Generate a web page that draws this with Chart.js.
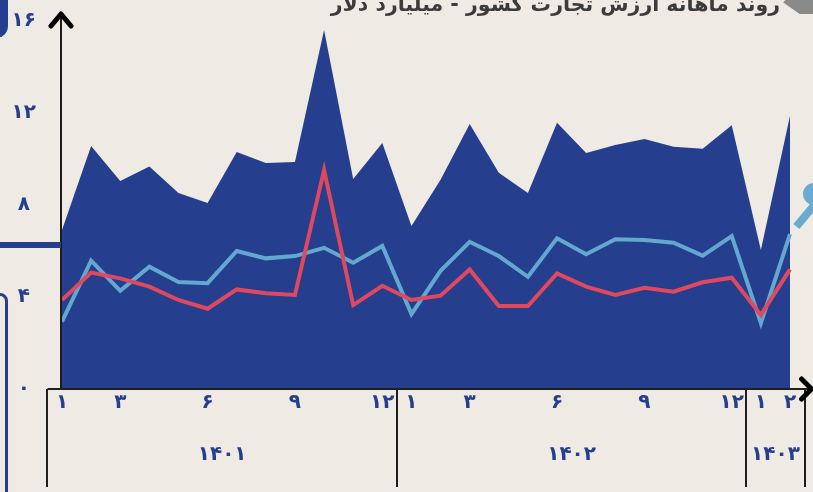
<!DOCTYPE html>
<html>
<head>
<meta charset="utf-8">
<script src="https://cdn.jsdelivr.net/npm/chart.js@4.4.1/dist/chart.umd.min.js"></script>
<style>
  html, body { margin: 0; padding: 0; background: #efebe4; }
  #wrap { position: relative; width: 813px; height: 492px; overflow: hidden; background: #efebe4; }
  #tradeChart { position: absolute; left: 0; top: 0; }
  .title {
    position: absolute; right: 33px; top: -8px; direction: rtl; white-space: nowrap;
    font: bold 20.5px "DejaVu Sans", sans-serif; color: #3b3b3b;
  }
  .tag { position: absolute; left: 783px; top: -12px; width: 30px; height: 26px; background: #8a8a8a;
    clip-path: polygon(0 55%, 55% 0, 100% 0, 100% 100%, 55% 100%); }
  .blob { position: absolute; left: -14px; top: -6px; width: 22px; height: 44px; background: #253f8e; border-radius: 0 0 12px 0; }
  .bar { position: absolute; left: 0; top: 242px; width: 61px; height: 6px; background: #253f8e; }
  .frame { position: absolute; left: -8px; top: 293px; width: 10px; height: 220px; border: 3px solid #253f8e; border-radius: 8px; }
  .icon { position: absolute; left: 803px; top: 183px; width: 22px; height: 22px; border-radius: 50%; background: #6aaad0; }
  .icon2 { position: absolute; left: 802px; top: 200px; width: 8px; height: 30px; background: #6aaad0; transform: rotate(40deg); }
</style>
</head>
<body>
<div id="wrap">
  <canvas id="tradeChart" width="813" height="492"></canvas>
  <div class="title">روند ماهانه ارزش تجارت کشور - میلیارد دلار</div>
  <div class="tag"></div>
  <div class="blob"></div>
  <div class="bar"></div>
  <div class="frame"></div>
  <div class="icon"></div>
  <div class="icon2"></div>
</div>
<script>
// months 1401/1 .. 1403/2
const categories = [
  '۱۴۰۱/۱','۱۴۰۱/۲','۱۴۰۱/۳','۱۴۰۱/۴','۱۴۰۱/۵','۱۴۰۱/۶','۱۴۰۱/۷','۱۴۰۱/۸','۱۴۰۱/۹','۱۴۰۱/۱۰','۱۴۰۱/۱۱','۱۴۰۱/۱۲',
  '۱۴۰۲/۱','۱۴۰۲/۲','۱۴۰۲/۳','۱۴۰۲/۴','۱۴۰۲/۵','۱۴۰۲/۶','۱۴۰۲/۷','۱۴۰۲/۸','۱۴۰۲/۹','۱۴۰۲/۱۰','۱۴۰۲/۱۱','۱۴۰۲/۱۲',
  '۱۴۰۳/۱','۱۴۰۳/۲'
];
const monthTicks = ['۱','','۳','','','۶','','','۹','','','۱۲', '۱','','۳','','','۶','','','۹','','','۱۲', '۱','۲'];
const yearLabels = ['۱۴۰۱', '۱۴۰۲', '۱۴۰۳'];
const monthsPerYear = [12, 12, 2];
const yTickLabels = ['۰', '۴', '۸', '۱۲', '۱۶'];

// billion dollars
const totalTrade = [6.91, 10.57, 9.04, 9.67, 8.52, 8.09, 10.30, 9.83, 9.87, 15.61, 9.13, 10.70,
                    7.09, 9.10, 11.52, 9.40, 8.52, 11.58, 10.26, 10.61, 10.87, 10.53, 10.45, 11.47,
                    6.04, 11.88];
const blueSeries = [2.93, 5.58, 4.27, 5.32, 4.65, 4.60, 6.00, 5.68, 5.78, 6.14, 5.49, 6.22,
                    3.26, 5.14, 6.40, 5.78, 4.88, 6.55, 5.86, 6.51, 6.48, 6.36, 5.80, 6.65,
                    2.86, 6.73];
const redSeries = [3.87, 5.06, 4.81, 4.45, 3.87, 3.49, 4.33, 4.16, 4.09, 9.52, 3.65, 4.49,
                   3.87, 4.06, 5.20, 3.61, 3.61, 5.03, 4.45, 4.09, 4.40, 4.23, 4.64, 4.84,
                   3.22, 5.20];

const BLUE = '#253f8e';
const FONT = '"DejaVu Sans", sans-serif';

// first index of each year, centre of each year group, group edges
const yearStarts = [];
let s = 0;
monthsPerYear.forEach(n => { yearStarts.push(s); s += n; });
const yearCenters = yearStarts.map((st, i) => st + (monthsPerYear[i] - 1) / 2);
const yearEdges = yearStarts.map(st => st - 0.5).concat([s - 0.5]);

const axesDecor = {
  id: 'axesDecor',
  afterDraw(chart) {
    const c = chart.ctx, x = chart.scales.x, area = chart.chartArea;
    const y0 = area.bottom, left = area.left - 1;
    const xEnd = x.getPixelForValue(yearEdges[yearEdges.length - 1]) + 7;
    c.save();
    c.strokeStyle = '#1e1e1e';
    c.lineWidth = 2;
    c.beginPath();
    c.moveTo(x.getPixelForValue(yearEdges[0]), y0);
    c.lineTo(xEnd, y0);
    c.moveTo(left, y0);
    c.lineTo(left, 14);
    yearEdges.forEach(v => {
      const px = Math.round(x.getPixelForValue(v));
      c.moveTo(px, y0);
      c.lineTo(px, y0 + 98);
    });
    c.stroke();
    c.strokeStyle = '#000';
    c.lineWidth = 5;
    c.lineCap = 'round';
    c.lineJoin = 'round';
    c.beginPath();
    c.moveTo(left - 10, 26); c.lineTo(left, 14); c.lineTo(left + 10, 26);
    c.moveTo(xEnd - 10, y0 - 10); c.lineTo(xEnd, y0); c.lineTo(xEnd - 10, y0 + 10);
    c.stroke();
    c.restore();
  }
};

new Chart(document.getElementById('tradeChart'), {
  type: 'line',
  data: {
    labels: categories,
    datasets: [
      { data: redSeries, borderColor: '#e0485f', borderWidth: 4, pointRadius: 0, tension: 0, fill: false, order: 0 },
      { data: blueSeries, borderColor: '#63a8cf', borderWidth: 4, pointRadius: 0, tension: 0, fill: false, order: 1 },
      { data: totalTrade, borderColor: BLUE, backgroundColor: BLUE, borderWidth: 0, pointRadius: 0, tension: 0, fill: 'origin', order: 2 }
    ]
  },
  options: {
    responsive: false,
    animation: false,
    layout: { padding: { left: 0, right: 23, top: 21, bottom: 20 } },
    plugins: { legend: { display: false }, tooltip: { enabled: false } },
    scales: {
      x: {
        type: 'category', offset: false,
        grid: { display: false, drawTicks: true, tickLength: 2 }, border: { display: false },
        afterFit: sc => { sc.height = 24; },
        ticks: { autoSkip: false, maxRotation: 0, padding: 0, color: BLUE,
          font: { family: FONT, size: 20, weight: 'bold' },
          callback: (v, i) => monthTicks[i] }
      },
      x2: {
        type: 'linear', position: 'bottom', min: 0, max: categories.length - 1,
        grid: { display: false, drawTicks: true, tickLength: 30 }, border: { display: false },
        afterBuildTicks: sc => { sc.ticks = yearCenters.map(v => ({ value: v })); },
        afterFit: sc => { sc.height = 59; },
        ticks: { autoSkip: false, maxRotation: 0, padding: 0, color: BLUE,
          font: { family: FONT, size: 20, weight: 'bold' },
          callback: (v, i) => yearLabels[i] }
      },
      y: {
        min: 0, max: 16,
        grid: { display: false, drawTicks: true, tickLength: 26 }, border: { display: false },
        afterFit: sc => { sc.width = 62; },
        ticks: { stepSize: 4, crossAlign: 'center', padding: 0, color: BLUE,
          font: { family: FONT, size: 20, weight: 'bold' },
          callback: v => yTickLabels[v / 4] }
      }
    }
  },
  plugins: [axesDecor]
});
</script>
</body>
</html>
